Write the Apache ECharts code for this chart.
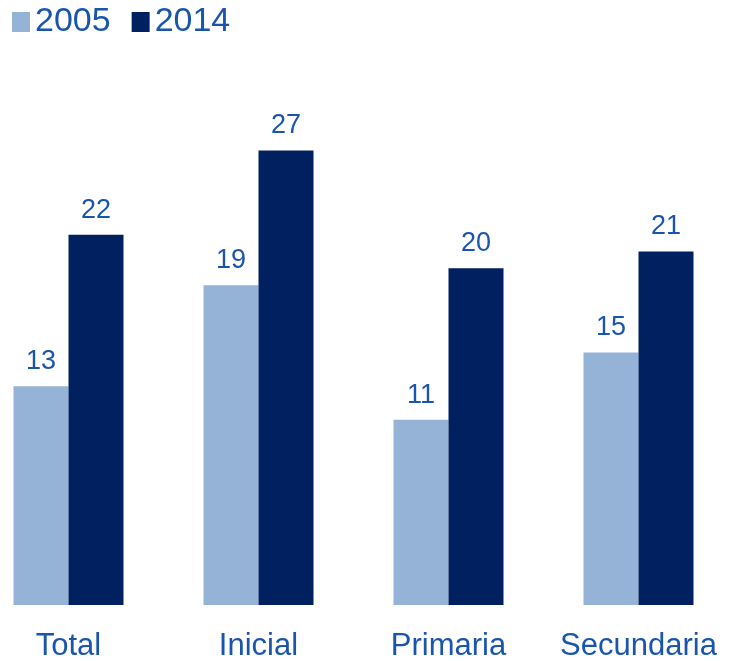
<!DOCTYPE html>
<html>
<head>
<meta charset="utf-8">
<script src="https://cdn.jsdelivr.net/npm/echarts@6/dist/echarts.min.js"></script>
<style>
  html, body { margin: 0; padding: 0; background: #ffffff; }
  #chart { width: 731px; height: 661px; }
</style>
</head>
<body>
<div id="chart"></div>
<script>
// Nivel educativo y valores por año
const categories = ['Total', 'Inicial', 'Primaria', 'Secundaria'];
const years = ['2005', '2014'];
const values2005 = [13, 19, 11, 15];
const values2014 = [22, 27, 20, 21];

const textBlue = '#1A55AD';
const font = "'Liberation Sans', Arial, sans-serif";

const chart = echarts.init(document.getElementById('chart'));

function barSeries(name, data, color) {
  return {
    name: name,
    type: 'bar',
    data: data,
    barWidth: 55,
    barGap: '0%',
    itemStyle: { color: color },
    label: {
      show: true,
      position: 'top',
      distance: 11,
      color: textBlue,
      fontFamily: font,
      fontSize: 27
    }
  };
}

chart.setOption({
  animation: false,
  legend: {
    data: years,
    left: 12,
    top: 5,
    padding: 0,
    itemWidth: 18,
    itemHeight: 20,
    itemGap: 21,
    icon: 'rect',
    textStyle: { color: textBlue, fontFamily: font, fontSize: 34 }
  },
  grid: {
    left: -26.5,
    width: 760,
    top: 100,
    bottom: 56,
    containLabel: false,
    outerBoundsMode: 'none'
  },
  xAxis: {
    type: 'category',
    data: categories,
    axisLine: { show: false },
    axisTick: { show: false },
    axisLabel: {
      color: textBlue,
      fontFamily: font,
      fontSize: 31,
      margin: 26,
      interval: 0
    }
  },
  yAxis: {
    type: 'value',
    min: 0,
    max: 30,
    show: false,
    splitLine: { show: false }
  },
  series: [
    barSeries(years[0], values2005, '#95B3D7'),
    barSeries(years[1], values2014, '#002060')
  ]
});
</script>
</body>
</html>
